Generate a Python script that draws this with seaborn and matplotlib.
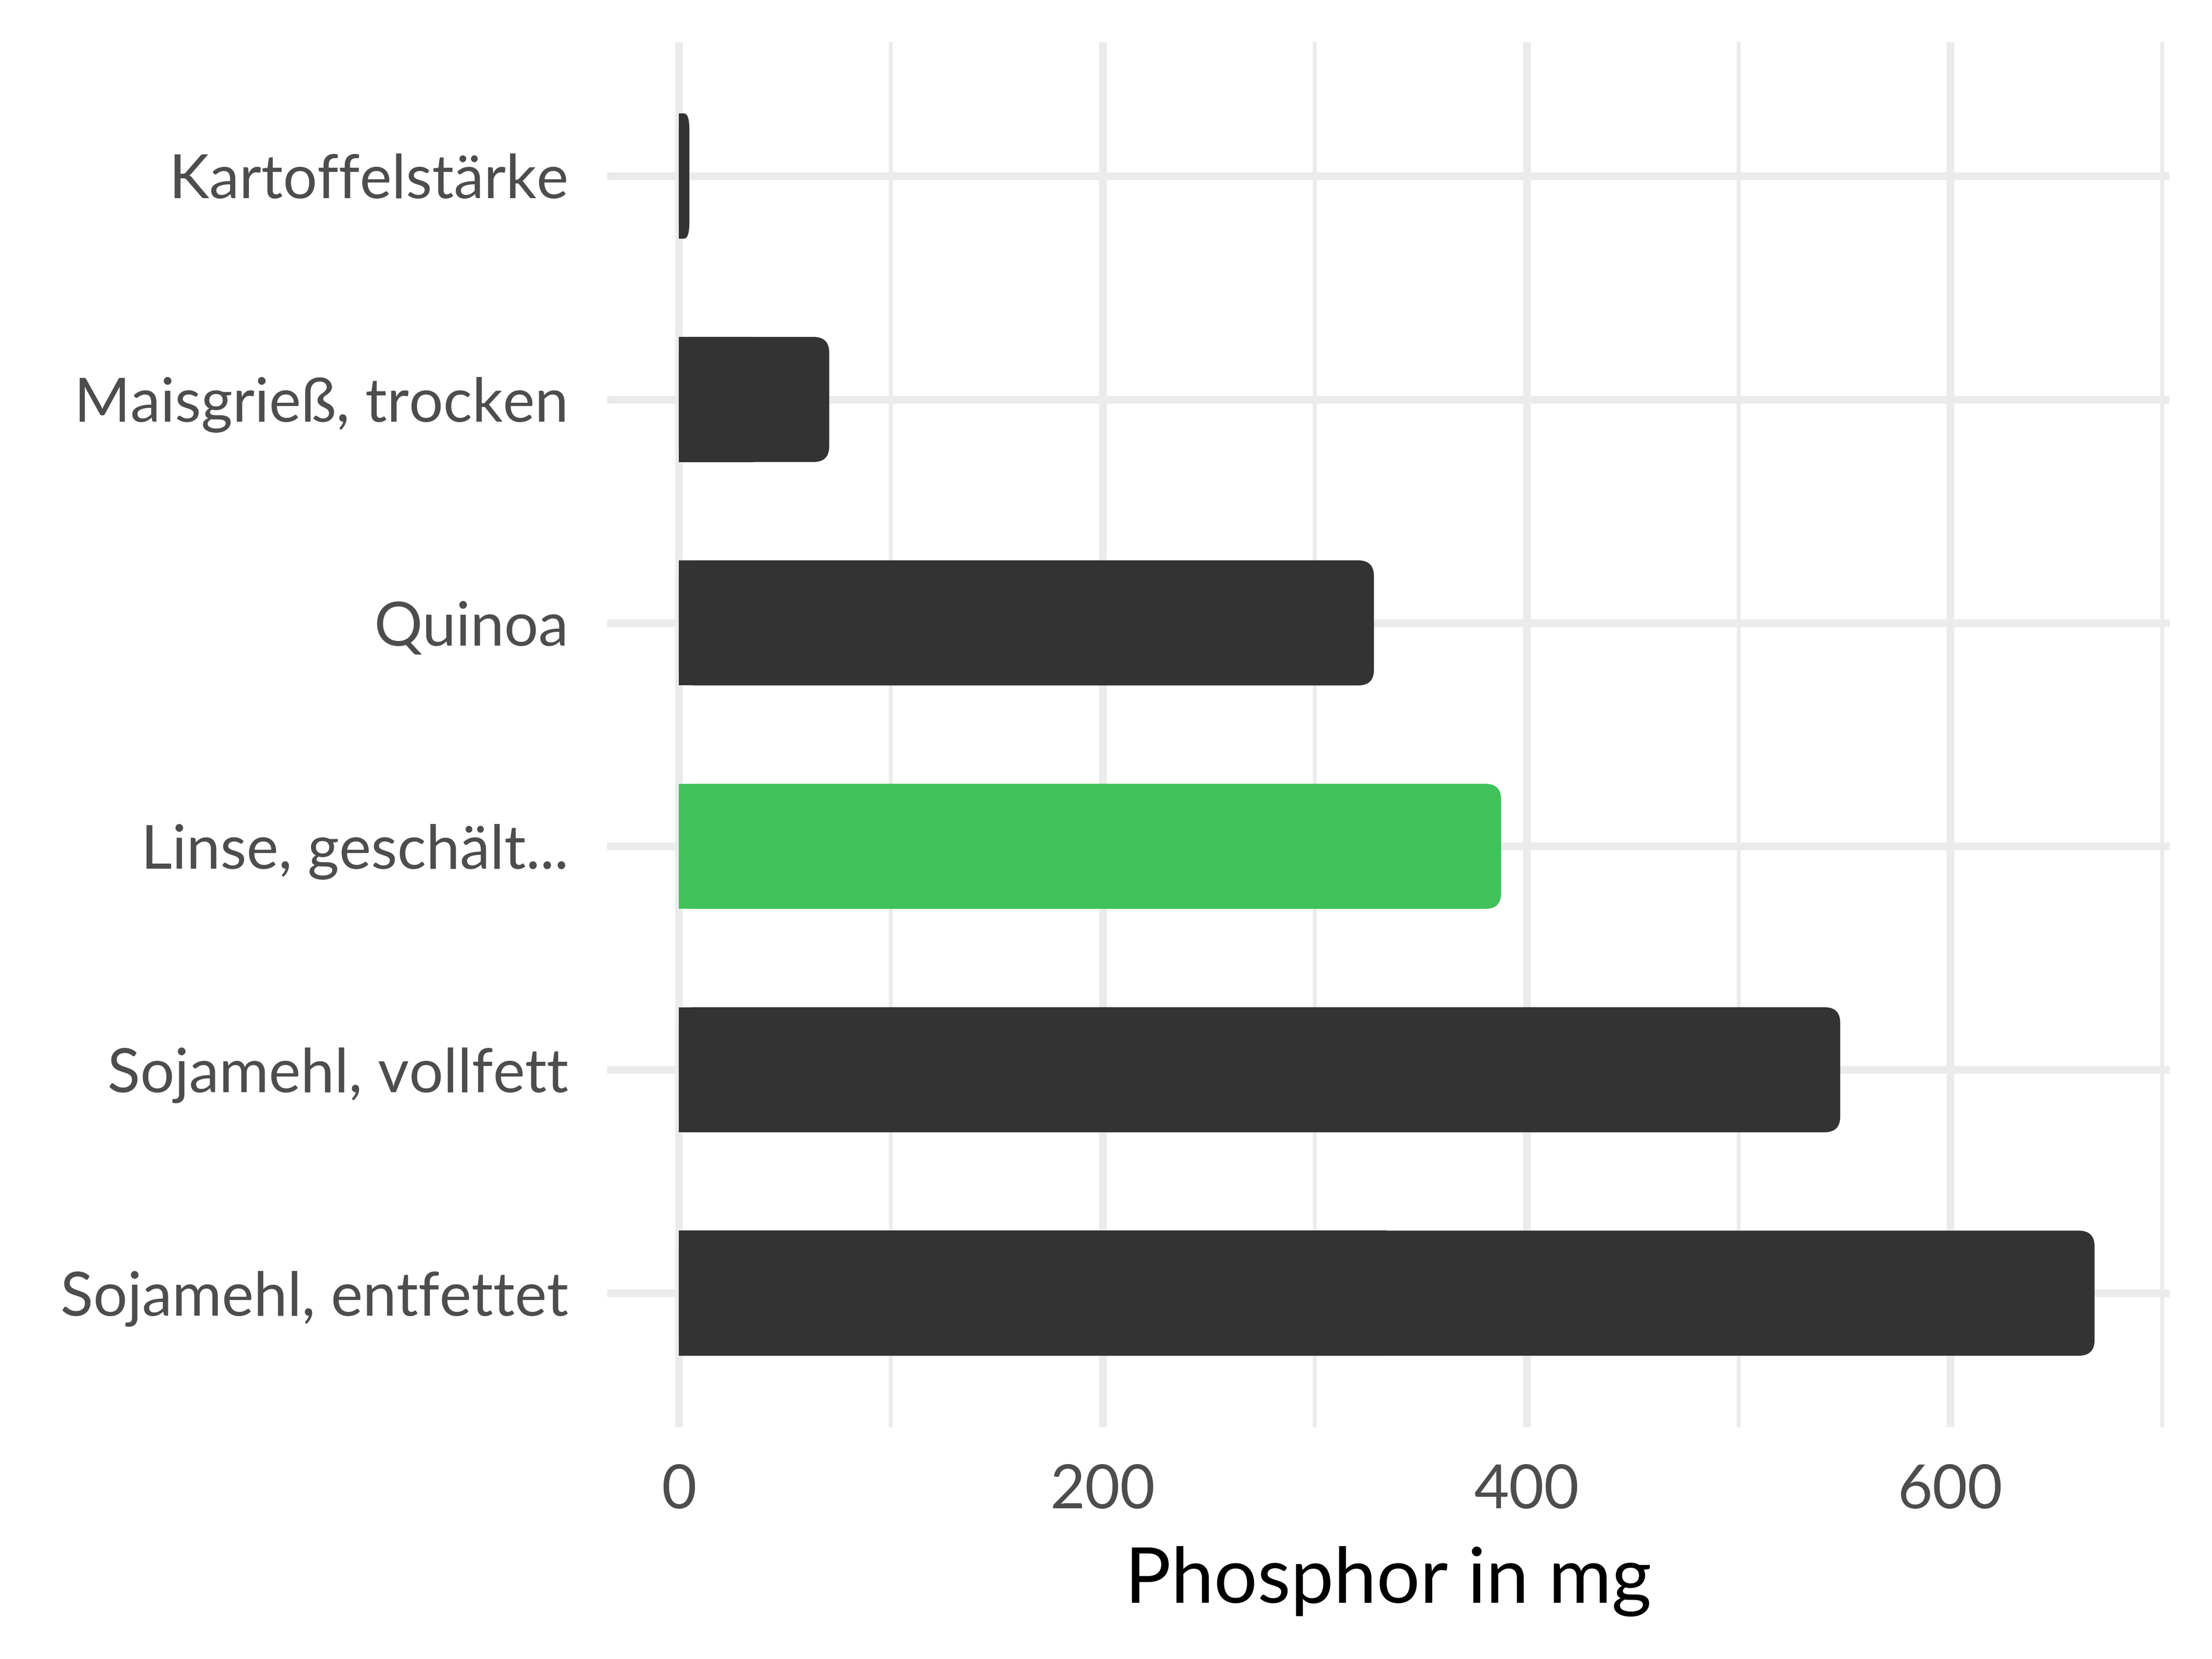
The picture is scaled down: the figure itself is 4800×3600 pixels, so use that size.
import matplotlib
matplotlib.use("Agg")
import matplotlib.pyplot as plt
import seaborn as sns
import pandas as pd
from matplotlib.patches import FancyBboxPatch

lebensmittel = [
    "Kartoffelstärke",
    "Maisgrieß, trocken",
    "Quinoa",
    "Linse, geschält...",
    "Sojamehl, vollfett",
    "Sojamehl, entfettet",
]
phosphor_mg = [5, 71, 328, 388, 548, 668]
markiert = [False, False, False, True, False, False]
x_ticks = [0, 200, 400, 600]
x_minor = [100, 300, 500, 700]

df = pd.DataFrame({
    "name": lebensmittel,
    "wert": phosphor_mg,
    "gruppe": ["markiert" if m else "normal" for m in markiert],
})

sns.set_theme(style="white")
plt.rcParams["font.family"] = ["Lato", "DejaVu Sans"]

fig = plt.figure(figsize=(16, 12), dpi=300)
ax = fig.add_axes([0.274375, 0.1397, 0.706458, 0.835])

sns.barplot(
    data=df, y="name", x="wert", hue="gruppe",
    palette={"normal": "#333333", "markiert": "#3fc25a"},
    width=0.56, dodge=False, legend=False, saturation=1,
    orient="h", ax=ax,
)

# ggplot-artige Balken: rechts abgerundet, links eckig
r_x = 7.4
r_y = 0.07
for p in list(ax.patches):
    x0, y0 = p.get_x(), p.get_y()
    w, h = p.get_width(), p.get_height()
    rx = min(r_x, w / 2)
    rund = FancyBboxPatch(
        (x0, y0), w, h,
        boxstyle=f"round,pad=0,rounding_size={rx}",
        mutation_aspect=r_y / rx,
        facecolor=p.get_facecolor(), edgecolor="none", lw=0,
    )
    ax.add_patch(rund)
    p.set_width(w / 2)
    p.set_linewidth(0)

ax.set_xlim(-33.9, 703.4)
ax.set_ylim(5.6, -0.6)
ax.set_xticks(x_ticks)
ax.set_xticks(x_minor, minor=True)
ax.set_axisbelow(True)
ax.grid(which="major", axis="both", color="#ebebeb", lw=4.0, solid_capstyle="butt")
ax.grid(which="minor", axis="x", color="#ebebeb", lw=2.0, solid_capstyle="butt")
sns.despine(ax=ax, left=True, bottom=True)

ax.tick_params(axis="both", which="both", length=0, labelsize=31.5, colors="#4d4d4d")
ax.tick_params(axis="y", pad=20)
ax.tick_params(axis="x", pad=19)
ax.set_ylabel("")
ax.set_xlabel("Phosphor in mg", fontsize=40, color="black", labelpad=14)

fig.savefig("out.png", dpi=300)
